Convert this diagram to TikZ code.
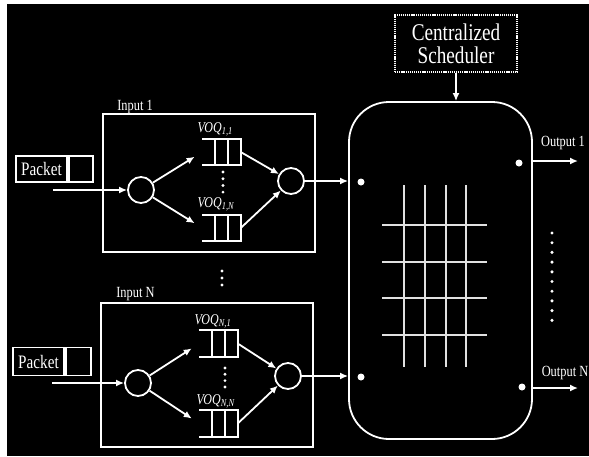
\documentclass[tikz,border=0pt]{standalone}
\usepackage{fontspec}
\setmainfont[FakeStretch=0.8]{Liberation Serif}
\usetikzlibrary{arrows.meta,positioning,calc}

\begin{document}
\begin{tikzpicture}[
  x=1pt, y=-1pt,
  wire/.style={draw=white, line width=1.8pt},
  arrow/.style={draw=white, line width=1.8pt, -{Latex[length=8pt,width=7pt]}},
  inbox/.style={wire, minimum width=212pt, inner sep=0pt},
  sw/.style={wire, circle, minimum size=26pt, inner sep=0pt},
  queue/.style={minimum width=38pt, minimum height=26pt, inner sep=0pt},
  lbl/.style={text=white, inner sep=0pt, font=\fontsize{15.5}{16}\selectfont},
  voq/.style={text=white, inner sep=0pt, anchor=base west, font=\fontsize{15}{15}\selectfont\itshape},
  pkt/.style={wire, minimum height=26pt, inner sep=0pt, text=white, font=\fontsize{19}{20}\selectfont},
  dot/.style={circle, fill=white, minimum size=7pt, inner sep=0pt},
  grid/.style={draw=white!88!black, line width=1.6pt},
]
  \fill[white] (0,0) rectangle (589,456);
  \fill[black] (7,4) rectangle (589,456);
  \useasboundingbox (0,0) rectangle (589,456);

  % input ports
  \node[inbox, minimum height=138pt] (in1) at (209,183) {};
  \node[inbox, minimum height=144pt] (inN) at (207,375) {};
  \node[lbl, anchor=base west] (in1lbl) at ([shift={(15,-3)}]in1.north west) {Input 1};
  \node[lbl, anchor=base west] (inNlbl) at ([shift={(16,-5)}]inN.north west) {Input N};

  \node[pkt, minimum width=51pt] (pk1) at (41.5,169) {Packet};
  \node[pkt, minimum width=24pt, right=0pt of pk1] (pk1e) {};
  \node[pkt, minimum width=51pt, minimum height=28pt] (pkN) at (38.5,361.5) {Packet};
  \node[pkt, minimum width=25pt, minimum height=28pt, right=0pt of pkN] (pkNe) {};

  \coordinate (src1) at (53,190);
  \coordinate (srcN) at (52,383);

  \node[sw] (d1) at (141,190) {};
  \node[sw] (m1) at (291,181) {};
  \node[sw] (dN) at (138,383) {};
  \node[sw] (mN) at (288,376) {};

  \node[queue] (q11) at (221.5,152) {};
  \node[queue] (q1N) at (221.5,228) {};
  \node[queue] (qN1) at (218.5,343.5) {};
  \node[queue] (qNN) at (218.5,423.5) {};
  \foreach \q in {q11,q1N,qN1,qNN} {
    \draw[wire] (\q.north west) -- (\q.north east) -- (\q.south east) -- (\q.south west);
    \foreach \f in {0.34,0.67}
      \draw[wire] ($(\q.north west)!\f!(\q.north east)$) -- ($(\q.south west)!\f!(\q.south east)$);
  }
  \node[voq] (v11) at ([shift={(-5,-6)}]q11.north west) {VOQ\textsubscript{1,1}};
  \node[voq] (v1N) at ([shift={(-5,-7)}]q1N.north west) {VOQ\textsubscript{1,N}};
  \node[voq] (vN1) at ([shift={(-5,-6)}]qN1.north west) {VOQ\textsubscript{N,1}};
  \node[voq] (vNN) at ([shift={(-3,-6)}]qNN.north west) {VOQ\textsubscript{N,N}};

  \foreach \k in {0,...,3} {
    \fill[white] (223,172+6.7*\k) circle (1.6);
    \fill[white] (225,368+6.3*\k) circle (1.6);
  }
  \foreach \k in {0,1,2}
    \fill[white] (222,271+7*\k) circle (1.7);

  \draw[arrow] (src1) -- (d1);
  \draw[arrow, shorten >=9pt] (d1) -- (q11.west);
  \draw[arrow, shorten >=9pt] (d1) -- (q1N.west);
  \draw[arrow] (q11.east) -- (m1);
  \draw[arrow] (q1N.east) -- (m1);
  \draw[arrow] (srcN) -- (dN);
  \draw[arrow, shorten >=9pt] (dN) -- (qN1.west);
  \draw[arrow, shorten >=9pt] (dN) -- (qNN.west);
  \draw[arrow] (qN1.east) -- (mN);
  \draw[arrow] (qNN.east) -- (mN);

  % switch fabric
  \node[wire, rounded corners=40pt, minimum width=183pt, minimum height=337pt] (fab) at (440.5,270.5) {};
  \node[draw=white, line width=1.5pt, dash pattern=on 1.2pt off 0.9pt, minimum width=122pt, minimum height=57pt,
        text=white, align=center, font=\fontsize{24}{23}\selectfont] (sch) at (456,43.5) {Centralized\\Scheduler};
  \draw[arrow] (sch.south) -- (sch.south |- fab.north);

  \foreach \gx in {404,425,446,466}
    \draw[grid] (\gx,185) -- (\gx,367);
  \foreach \gy in {225,262,298,335}
    \draw[grid] (382,\gy) -- (487,\gy);

  \node[dot] (fi1) at (361,182) {};
  \node[dot] (fiN) at (361,377) {};
  \node[dot] (fo1) at (519,163) {};
  \node[dot] (foN) at (522,387) {};

  \draw[arrow] (m1) -- (m1 -| fab.west);
  \draw[arrow] (mN) -- (mN -| fab.west);

  \coordinate (out1) at (578,161);
  \coordinate (outN) at (578,388);
  \draw[arrow] (out1 -| fab.east) -- (out1);
  \draw[arrow] (outN -| fab.east) -- (outN);
  \node[lbl] (out1lbl) at (563,143) {Output 1};
  \node[lbl] (outNlbl) at (565,373) {Output N};

  \foreach \k in {0,...,9}
    \fill[white] (552,233+9.7*\k) circle (1.7);
\end{tikzpicture}
\end{document}
